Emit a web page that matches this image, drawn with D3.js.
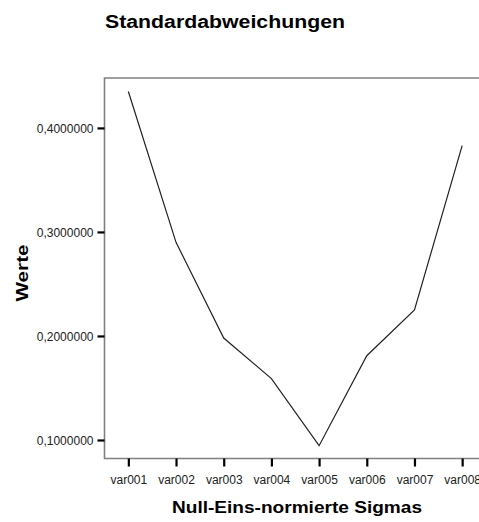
<!DOCTYPE html>
<html><head><meta charset="utf-8">
<script src="https://cdn.jsdelivr.net/npm/d3@7"></script>
<style>
html,body{margin:0;padding:0;background:#fff;overflow:hidden;}
text{font-family:"Liberation Sans",Arial,sans-serif;}
</style></head>
<body><svg id="c" width="479" height="522"></svg>
<script>
const categories = ["var001","var002","var003","var004","var005","var006","var007","var008"];
const values = [0.435, 0.290, 0.198, 0.159, 0.0945, 0.181, 0.225, 0.383];
const yTicks = [0.1, 0.2, 0.3, 0.4];
const title = "Standardabweichungen";
const xTitle = "Null-Eins-normierte Sigmas";
const yTitle = "Werte";

const svg = d3.select("#c");
const L = 104.5, T = 78, B = 458.5, R = 486;
const x = d3.scalePoint().domain(categories).range([L, R]).padding(0.5);
const y = d3.scaleLinear().domain([0.0822, 0.448]).range([B, T]);
const fmt = v => d3.format(".7f")(v).replace(".", ",");

// frame (top + left + bottom)
svg.append("path")
  .attr("d", `M${R},${T}H${L}V${B}H${R}`)
  .attr("fill","none").attr("stroke","#808080").attr("stroke-width",1.6);

// y axis ticks
const ya = svg.append("g").attr("transform", `translate(${L},0)`)
  .call(d3.axisLeft(y).tickValues(yTicks).tickSize(7).tickPadding(4).tickFormat(fmt));
ya.select(".domain").remove();
ya.selectAll(".tick line").attr("stroke","#000").attr("stroke-width",2.2);
ya.selectAll(".tick text").attr("font-size",12).attr("fill","#222")
  .attr("font-family","Liberation Sans, Arial, sans-serif").attr("dy","0.35em");

// x axis ticks
const xa = svg.append("g").attr("transform", `translate(0,${B})`)
  .call(d3.axisBottom(x).tickSize(8).tickPadding(9));
xa.select(".domain").remove();
xa.selectAll(".tick line").attr("stroke","#000").attr("stroke-width",2.2);
xa.selectAll(".tick text").attr("font-size",12).attr("fill","#222")
  .attr("font-family","Liberation Sans, Arial, sans-serif");

// line
const line = d3.line().x((d,i)=>x(categories[i])).y(d=>y(d));
svg.append("path").datum(values).attr("d", line)
  .attr("fill","none").attr("stroke","#222").attr("stroke-width",1.2);

// titles
svg.append("text").attr("x",105).attr("y",28).attr("font-size",18).attr("font-weight","bold")
  .attr("textLength",240).attr("lengthAdjust","spacingAndGlyphs").text(title);
svg.append("text").attr("x",297).attr("y",513).attr("text-anchor","middle")
  .attr("font-size",17).attr("font-weight","bold")
  .attr("textLength",250).attr("lengthAdjust","spacingAndGlyphs").text(xTitle);
svg.append("text").attr("transform","translate(28,273) rotate(-90)").attr("text-anchor","middle")
  .attr("font-size",17).attr("font-weight","bold")
  .attr("textLength",57).attr("lengthAdjust","spacingAndGlyphs").text(yTitle);
</script></body></html>
